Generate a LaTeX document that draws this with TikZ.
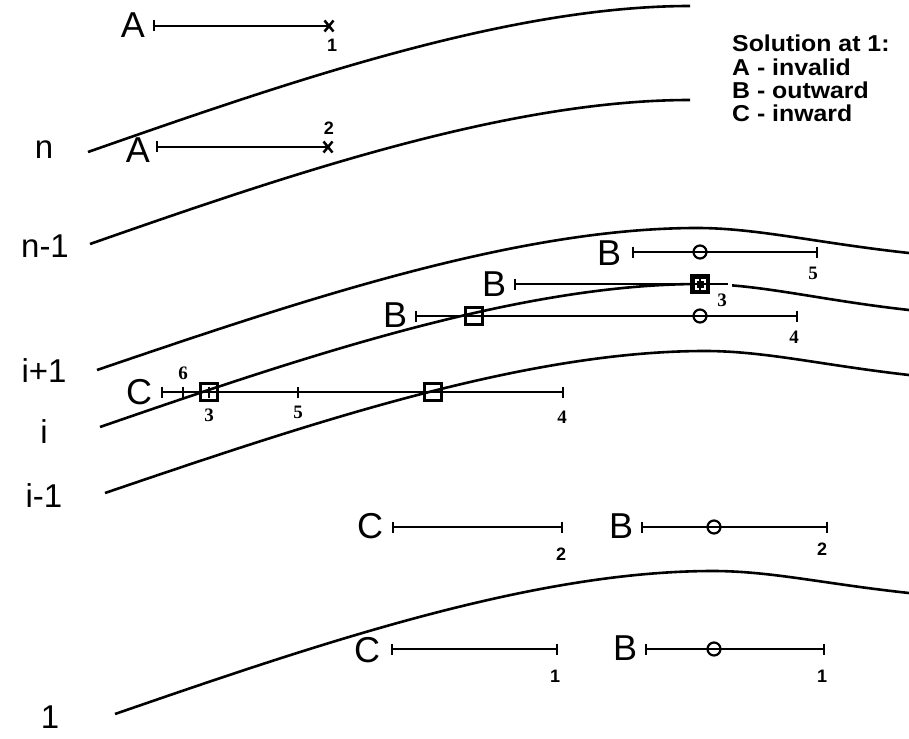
\documentclass[tikz,border=0pt]{standalone}
\usepackage{fontspec}
\setmainfont{Liberation Sans}
\newfontfamily\serifb{Liberation Serif}
\newcommand\tk[1]{\draw[seg] ([yshift=5.5pt]#1) -- ([yshift=-5.5pt]#1);}
\newcommand\xm[1]{\draw[seg] ([shift={(-4.5pt,5.5pt)}]#1) -- ([shift={(4.5pt,-5.5pt)}]#1) ([shift={(-4.5pt,-5.5pt)}]#1) -- ([shift={(4.5pt,5.5pt)}]#1);}
\begin{document}
\begin{tikzpicture}[x=1pt,y=-1pt,
  seg/.style={line width=2.5pt},
  curve/.style={line width=2.6pt},
  big/.style={inner sep=0pt,font=\fontsize{36}{36}\selectfont},
  side/.style={inner sep=0pt,font=\fontsize{33}{33}\selectfont},
  legend/.style={inner sep=0pt,anchor=west,font=\fontsize{23}{23}\selectfont\bfseries},
  num/.style={inner sep=0pt,font=\fontsize{18}{18}\selectfont\bfseries},
  snum/.style={inner sep=0pt,font=\fontsize{19}{19}\selectfont\serifb\bfseries},
  ring/.style={circle,draw,line width=2.2pt,minimum size=13pt,inner sep=0pt},
  box/.style={rectangle,draw,line width=2.5pt,minimum size=17pt,inner sep=0pt},
]
\useasboundingbox[fill=white] (0,0) rectangle (909,738);

% ---- curves ----
\coordinate (nS) at (88,152);   \coordinate (nP) at (690,6);
\coordinate (mS) at (90,244);   \coordinate (mP) at (690,100);
\coordinate (ipS) at (97,370);  \coordinate (ipP) at (697,228); \coordinate (ipE) at (909,253);
\coordinate (iS) at (100,427);  \coordinate (iP) at (700,284);  \coordinate (iE) at (909,310);
\coordinate (imS) at (105,493); \coordinate (imP) at (705,351); \coordinate (imE) at (909,375);
\coordinate (oS) at (115,714);  \coordinate (oP) at (713,571);  \coordinate (oE) at (909,593);

\draw[curve] (nS) .. controls +(200,-70) and +(-182,0) .. (nP);
\draw[curve] (mS) .. controls +(200,-70) and +(-182,0) .. (mP);
\draw[curve] (ipS) .. controls +(200,-68) and +(-182,0) .. (ipP)
  .. controls +(60,0) and +(-92,-10) .. (ipE);
\draw[curve] (iS) .. controls +(200,-69) and +(-182,0) .. (iP);
\begin{scope}
  \clip (732,200) rectangle (909,340);
  \draw[curve] (iP) .. controls +(60,0) and +(-90,-10) .. (iE);
\end{scope}
\draw[curve] (imS) .. controls +(200,-68) and +(-182,0) .. (imP)
  .. controls +(60,0) and +(-88,-10) .. (imE);
\draw[curve] (oS) .. controls +(200,-69) and +(-182,0) .. (oP)
  .. controls +(58,0) and +(-84,-9) .. (oE);

% ---- side labels ----
\node[side] (Ln) at (44,150) {n};
\node[side] (Lm) at (45,246) {n-1};
\node[side] (Lip) at (44,371) {i+1};
\node[side] (Li) at (44,432) {i};
\node[side] (Lim) at (44,496) {i-1};
\node[side] (Lo) at (50,717) {1};

% ---- legend ----
\node[legend] (g0) at (732,43) {\scalebox{1.08}[1]{Solution at 1:}};
\node[legend] (g1) at (732,67) {\scalebox{1.08}[1]{A - invalid}};
\node[legend] (g2) at (732,90) {\scalebox{1.08}[1]{B - outward}};
\node[legend] (g3) at (732,113) {\scalebox{1.08}[1]{C - inward}};

% ---- A segments ----
\node[big] (A1) at (133,25) {A};
\coordinate (a1s) at (154,26); \coordinate (a1e) at (329,26);
\draw[seg] (a1s) -- (a1e); \tk{a1s} \xm{a1e}
\node[num] (a1n) at (332,45) {1};

\node[big] (A2) at (138,150) {A};
\coordinate (a2s) at (157,147); \coordinate (a2e) at (328,147);
\draw[seg] (a2s) -- (a2e); \tk{a2s} \xm{a2e}
\node[num] (a2n) at (329,128) {2};

% ---- B5 ----
\node[big] (B5) at (609,253) {B};
\coordinate (b5s) at (633,252); \coordinate (b5e) at (817,252);
\draw[seg] (b5s) -- (b5e); \tk{b5s} \tk{b5e}
\node[ring] (b5c) at (700,252) {};
\node[snum] (b5n) at (813,273) {5};

% ---- B3 ----
\node[big] (B3) at (494,284) {B};
\coordinate (b3s) at (515,284); \coordinate (b3t) at (728,284);
\node[box,fill=black,minimum size=18pt] (b3q) at (700,284) {};
\draw[seg] (b3s) -- (b3q.west); \tk{b3s}
\draw[line width=1.2pt] (b3q.east) -- (b3t);
\draw[white,line width=2pt] ([shift={(-4.5pt,-4.5pt)}]b3q.center) rectangle ([shift={(4.5pt,4.5pt)}]b3q.center);
\draw[line width=2pt] ([xshift=-6pt]b3q.center) -- ([xshift=6pt]b3q.center)
  ([yshift=-6pt]b3q.center) -- ([yshift=6pt]b3q.center);
\node[snum] (b3n) at (722,300) {3};

% ---- B4 ----
\node[big] (B4) at (395,315) {B};
\coordinate (b4s) at (416,316); \coordinate (b4e) at (797,316);
\draw[seg] (b4s) -- (b4e); \tk{b4s} \tk{b4e}
\node[box] (b4q) at (474,316) {};
\node[ring] (b4c) at (700,316) {};
\node[snum] (b4n) at (794,337) {4};

% ---- C (middle) ----
\node[big] (C0) at (139,392) {C};
\coordinate (cs) at (162,392); \coordinate (c6) at (183,392);
\coordinate (c3) at (209,392); \coordinate (c5) at (298,392);
\coordinate (ce) at (563,392);
\draw[seg] (cs) -- (ce); \tk{cs} \tk{c6} \tk{c3} \tk{c5} \tk{ce}
\node[box] (cq1) at (c3) {};
\node[box] (cq2) at (433,392) {};
\node[snum] (c6n) at (183,373) {6};
\node[snum] (c3n) at (209,415) {3};
\node[snum] (c5n) at (298,412) {5};
\node[snum] (c4n) at (562,417) {4};

% ---- C2 / B2 ----
\node[big] (C2) at (370,526) {C};
\coordinate (c2s) at (393,527); \coordinate (c2e) at (562,527);
\draw[seg] (c2s) -- (c2e); \tk{c2s} \tk{c2e}
\node[num] (c2n) at (561,554) {2};

\node[big] (B2) at (621,526) {B};
\coordinate (b2s) at (642,527); \coordinate (b2e) at (827,527);
\draw[seg] (b2s) -- (b2e); \tk{b2s} \tk{b2e}
\node[ring] (b2c) at (714,527) {};
\node[num] (b2n) at (822,549) {2};

% ---- C1 / B1 ----
\node[big] (C1) at (367,650) {C};
\coordinate (c1s) at (392,649); \coordinate (c1e) at (557,649);
\draw[seg] (c1s) -- (c1e); \tk{c1s} \tk{c1e}
\node[num] (c1n) at (555,676) {1};

\node[big] (B1) at (625,648) {B};
\coordinate (b1s) at (646,649); \coordinate (b1e) at (824,649);
\draw[seg] (b1s) -- (b1e); \tk{b1s} \tk{b1e}
\node[ring] (b1c) at (714,649) {};
\node[num] (b1n) at (822,676) {1};
\end{tikzpicture}
\end{document}
